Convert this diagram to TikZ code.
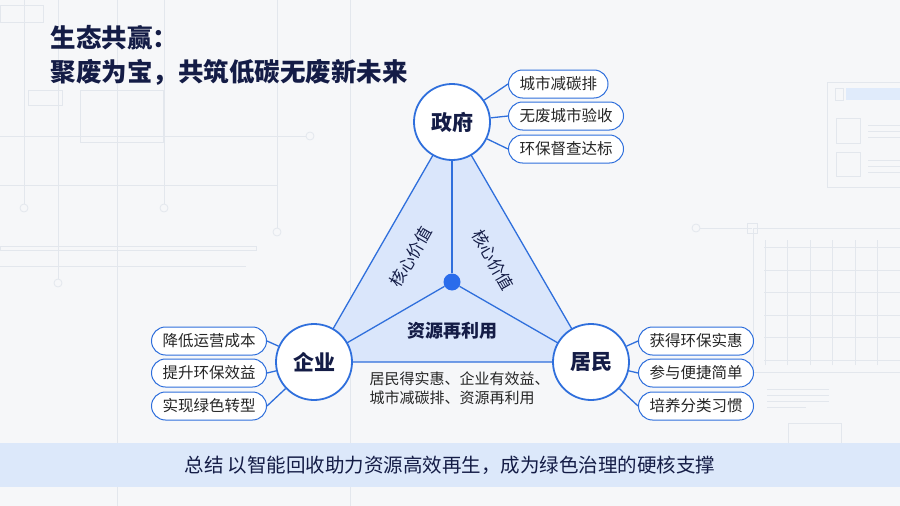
\documentclass[tikz,border=0pt]{standalone}
\usepackage{fontspec}
\setmainfont{Noto Sans CJK SC}
\usetikzlibrary{calc}
\definecolor{navy}{HTML}{141C46}
\definecolor{linkblue}{HTML}{2F6FDC}
\definecolor{dotblue}{HTML}{2A6CEB}
\definecolor{paleblue}{HTML}{D3E2FA}
\definecolor{bandblue}{HTML}{DCE8FA}
\definecolor{bgpaper}{HTML}{F6F7F9}
\definecolor{faint}{HTML}{E3E7ED}
\tikzset{
  hub/.style={circle, draw=linkblue, line width=1.8pt, fill=white, minimum size=76pt, inner sep=0pt,
    font=\fontsize{21}{21}\selectfont\bfseries, text=navy},
  leaf/.style={rounded corners=14pt, draw=linkblue, line width=1pt, fill=white, minimum height=28pt,
    inner xsep=11pt, inner ysep=0pt, font=\fontsize{15.5}{16}\selectfont, text=black!85},
  link/.style={linkblue, line width=1.3pt},
  deco/.style={faint, line width=0.8pt},
  decoring/.style={circle, draw=faint, line width=0.8pt, fill=bgpaper, minimum size=8pt, inner sep=0pt},
}
\newcommand{\leafbox}[4]{\node[leaf, anchor=#2] (#1) at (#3) {#4};}
\newcommand{\ringmark}[2]{\node[decoring] (#1) at (#2) {};}

\begin{document}
\begin{tikzpicture}[x=1pt, y=-1pt]
        \useasboundingbox (0,0) rectangle (900,506);
        \fill[bgpaper] (0,0) rectangle (900,506);

        % backdrop, left
        \draw[deco] (117,0) -- (117,506);
        \draw[deco] (350,0) -- (350,506);
        \draw[deco] (24,0) -- (24,204);
        \draw[deco] (58,0) -- (58,279);
        \draw[deco] (164,0) -- (164,204);
        \draw[deco] (277,0) -- (277,228);
        \draw[deco] (0,136) -- (306,136);
        \draw[deco] (0,185) -- (277,185);
        \draw[deco] (0,266) -- (246,266);
        \draw[deco] (0,246) rectangle (256,250);
        \draw[deco] (80,90) rectangle (163,142);
        \draw[deco] (28,90) rectangle (62,105);
        \draw[deco] (0,5) rectangle (43,22);
        \ringmark{rA}{24,208}
        \ringmark{rB}{58,283}
        \ringmark{rC}{164,208}
        \ringmark{rD}{277,232}
        \ringmark{rE}{310,136}

        % backdrop, right
        \draw[deco] (700,228) -- (752,228);
        \ringmark{rF}{696,228}
        \draw[deco] (827,82) rectangle (905,187);
        \fill[paleblue!70] (846,88) rectangle (905,100);
        \draw[deco] (835,88) rectangle (843,100);
        \draw[deco] (836,118) rectangle (860,143);
        \draw[deco] (836,152) rectangle (860,176);
        \draw[deco] (868,125) -- (905,125) (868,131) -- (905,131) (868,137) -- (905,137);
        \draw[deco] (868,160) -- (905,160) (868,166) -- (905,166) (868,172) -- (905,172);
        \draw[deco] (753,228) rectangle (905,372);
        \draw[deco] (747,223) rectangle (757,233);
        \draw[deco, step=22.5pt] (764,240) grid (905,365);
        \draw[deco] (767,389) -- (829,389) (767,395) -- (829,395) (767,401) -- (829,401) (767,407) -- (806,407);
        \draw[deco] (788,423) rectangle (841,470);

        % summary band
        \fill[bandblue] (0,443) rectangle (900,487);
        \node[font=\fontsize{19.5}{20}\selectfont, text=navy] (summary) at (450,465)
          {总结 以智能回收助力资源高效再生，成为绿色治理的硬核支撑};

        % title
        \node[anchor=west, font=\fontsize{25.5}{26}\selectfont\bfseries, text=navy] (title1) at (47,38) {生态共赢：};
        \node[anchor=west, font=\fontsize{25.5}{26}\selectfont\bfseries, text=navy] (title2) at (47,72) {聚废为宝，共筑低碳无废新未来};

        % triangle
        \coordinate (pG) at (452,122);
        \coordinate (pE) at (314,362);
        \coordinate (pR) at (591,362);
        \fill[paleblue!85] (pG) -- (pE) -- (pR) -- cycle;
        \draw[link, line join=round] (pG) -- (pE) -- (pR) -- cycle;
        \node[circle, fill=dotblue, minimum size=17pt, inner sep=0pt] (core) at (452,282) {};
        \draw[link] (core) -- (pG);
        \draw[link] (core) -- (pE);
        \draw[link] (core) -- (pR);
        \node[rotate=60, font=\fontsize{16.5}{17}\selectfont, text=navy] (valL) at (411,257) {核心价值};
        \node[rotate=-60, font=\fontsize{16.5}{17}\selectfont, text=navy] (valR) at (493,260) {核心价值};
        \node[font=\fontsize{18}{18}\selectfont\bfseries, text=navy] (reuse) at (452,331) {资源再利用};
        \node[anchor=west, align=left, font=\fontsize{15}{19}\selectfont, text=black!85] (gain) at (366,388)
          {居民得实惠、企业有效益、\\城市减碳排、资源再利用};

        % hubs
        \node[hub] (gov) at (pG) {政府};
        \node[hub] (ent) at (pE) {企业};
        \node[hub] (res) at (pR) {居民};

        % leaves of gov
        \leafbox{gA}{west}{508,84}{城市减碳排}
        \leafbox{gB}{west}{508,116}{无废城市验收}
        \leafbox{gC}{west}{508,149}{环保督查达标}
        % leaves of ent
        \leafbox{eA}{east}{267,341}{降低运营成本}
        \leafbox{eB}{east}{267,373}{提升环保效益}
        \leafbox{eC}{east}{267,406}{实现绿色转型}
        % leaves of res
        \leafbox{sA}{west}{638,341}{获得环保实惠}
        \leafbox{sB}{west}{638,373}{参与便捷简单}
        \leafbox{sC}{west}{638,406}{培养分类习惯}

        \draw[link] (gov) -- (gA.west);
        \draw[link] (gov) -- (gB.west);
        \draw[link] (gov) -- (gC.west);
        \draw[link] (ent) -- (eA.east);
        \draw[link] (ent) -- (eB.east);
        \draw[link] (ent) -- (eC.east);
        \draw[link] (res) -- (sA.west);
        \draw[link] (res) -- (sB.west);
        \draw[link] (res) -- (sC.west);
\end{tikzpicture}
\end{document}
